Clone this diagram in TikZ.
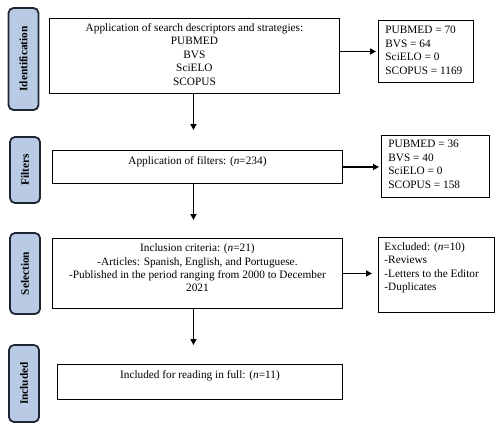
\documentclass[tikz,border=0pt]{standalone}
\usepackage{fontspec}
\setmainfont{Liberation Serif}
\usetikzlibrary{arrows.meta}
\definecolor{sidefill}{RGB}{184,202,228}
\definecolor{sideedge}{RGB}{30,38,52}
\newcommand{\bxtext}[4]{\parbox[c][#2][t]{#1}{\vspace*{#3}#4}}
\tikzset{
  every node/.style={font=\fontsize{11.3}{13.4}\selectfont},
  mainbox/.style={draw=black, line width=0.9pt, inner sep=0pt, anchor=north west},
  sidebox/.style={draw=sideedge, fill=sidefill, line width=1.8pt, rounded corners=5pt,
    inner sep=0pt, rotate=90, minimum height=30pt, font=\fontsize{11.3}{13.4}\selectfont\bfseries},
  arr/.style={line width=1.4pt, -{Triangle[length=6pt,width=6pt]}},
}
\begin{document}
\begin{tikzpicture}[x=1pt,y=1pt]
\useasboundingbox (0,0) rectangle (504,-432);
% side labels
\node[sidebox, minimum width=102pt] (sid) at (23.5,-59) {Identification};
\node[sidebox, minimum width=66pt] (sfi) at (25,-170) {Filters};
\node[sidebox, minimum width=81pt] (sse) at (25,-273.5) {Selection};
\node[sidebox, minimum width=77pt] (sin) at (24,-383.5) {Included};
% main boxes
\node[mainbox] (b1) at (49,-18) {\bxtext{290pt}{75pt}{5pt}{\centering Application of search descriptors and strategies:\\PUBMED\\BVS\\SciELO\\SCOPUS}};
\node[mainbox] (b2) at (52,-150) {\bxtext{290pt}{33pt}{6.5pt}{\centering Application of filters: (\textit{n}=234)}};
\node[mainbox] (b3) at (52,-238) {\bxtext{290pt}{70pt}{5.5pt}{\centering Inclusion criteria: (\textit{n}=21)\\-Articles: Spanish, English, and Portuguese.\\-Published in the period ranging from 2000 to December\\2021}};
\node[mainbox] (b4) at (57,-364) {\bxtext{285pt}{35pt}{6.5pt}{\centering Included for reading in full: (\textit{n}=11)}};
% right boxes
\node[mainbox] (r1) at (378,-20) {\bxtext{95pt}{62pt}{6pt}{\raggedright\leftskip=7pt PUBMED = 70\\BVS = 64\\SciELO = 0\\SCOPUS = 1169}};
\node[mainbox] (r2) at (381,-135) {\bxtext{108pt}{62pt}{5pt}{\raggedright\leftskip=7pt PUBMED = 36\\BVS = 40\\SciELO = 0\\SCOPUS = 158}};
\node[mainbox] (r3) at (378,-237) {\bxtext{116pt}{75pt}{5pt}{\raggedright\leftskip=6pt Excluded: (\textit{n}=10)\\-Reviews\\-Letters to the Editor\\-Duplicates}};
% arrows
\draw[arr, shorten >=2pt] (r1.west -| b1.east) -- (r1.west);
\draw[arr, shorten >=2pt] (b2.east) -- (b2.east -| r2.west);
\draw[arr, shorten >=6pt] (b3.east) -- (b3.east -| r3.west);
\draw[arr, shorten >=20pt] ([xshift=-1pt]b1.south) -- ([xshift=-1pt]b1.south |- b2.north);
\draw[arr, shorten >=18pt] ([xshift=-4pt]b2.south) -- ([xshift=-4pt]b2.south |- b3.north);
\draw[arr, shorten >=19pt] ([xshift=-4pt]b3.south) -- ([xshift=-4pt]b3.south |- b4.north);
\end{tikzpicture}
\end{document}
